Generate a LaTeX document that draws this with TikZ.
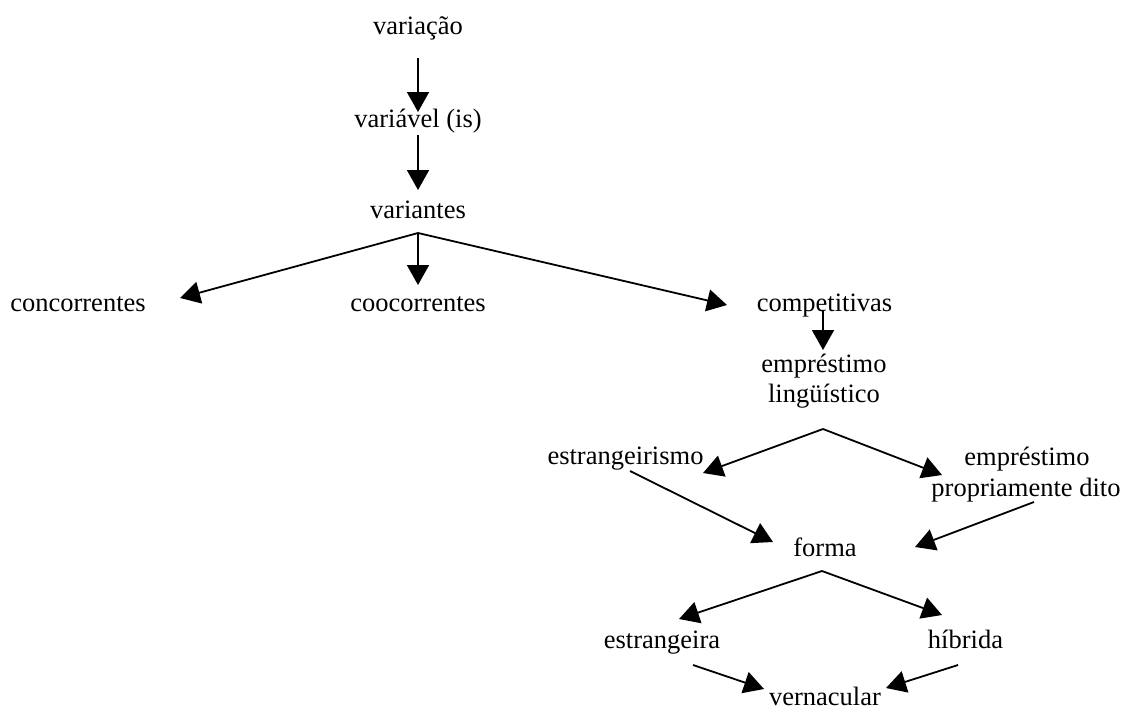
\documentclass[tikz,border=0pt]{standalone}
\usepackage{fontspec}
\setmainfont{Liberation Serif}
\usetikzlibrary{arrows.meta}
\begin{document}
\begin{tikzpicture}[x=1pt,y=-1pt,
  lbl/.style={anchor=base,inner sep=0pt,font=\fontsize{26.5}{30}\selectfont},
  arr/.style={line width=1.8pt,-{Triangle[length=20pt,width=22pt]}}]
\useasboundingbox (0,0) rectangle (1126,710);
% nodes
\node[lbl] (var) at (418,34) {variação};
\node[lbl] (vel) at (418,127) {variável (is)};
\node[lbl] (vts) at (418,218) {variantes};
\node[lbl] (conc) at (78,311) {concorrentes};
\node[lbl] (cooc) at (418,311) {coocorrentes};
\node[lbl] (comp) at (824.5,311) {competitivas};
\node[lbl] (emp) at (824,372) {empréstimo};
\node[lbl] (empb) at (824,402) {lingüístico};
\node[lbl] (estr) at (625.5,464) {estrangeirismo};
\node[lbl] (prop) at (1027,465) {empréstimo};
\node[lbl] (propb) at (1026,496) {propriamente dito};
\node[lbl] (forma) at (825,556) {forma};
\node[lbl] (estra) at (662,648) {estrangeira};
\node[lbl] (hib) at (965.5,648) {híbrida};
\node[lbl] (vern) at (825,705) {vernacular};
% connector points
\coordinate (var-s) at (418,58);
\coordinate (vel-n) at (418,112);
\coordinate (vel-s) at (418,135);
\coordinate (vts-n) at (418,190);
\coordinate (b1) at (418,233);
\coordinate (conc-e) at (180,298);
\coordinate (cooc-n) at (418,285);
\coordinate (comp-w) at (727,305);
\coordinate (comp-s) at (823,310);
\coordinate (emp-n) at (823,350);
\coordinate (b2) at (823,429);
\coordinate (estr-e) at (703,473);
\coordinate (prop-w) at (942,475);
\coordinate (estr-s) at (630,471);
\coordinate (forma-w) at (773,542);
\coordinate (prop-s) at (1034,502);
\coordinate (forma-e) at (915,547);
\coordinate (b3) at (822,571);
\coordinate (estra-n) at (679,619);
\coordinate (hib-n) at (942,615);
\coordinate (estra-s) at (693,665);
\coordinate (vern-w) at (764,689);
\coordinate (hib-s) at (958,665);
\coordinate (vern-e) at (886,688);
% connectors
\draw[arr] (var-s) -- (vel-n);
\draw[arr] (vel-s) -- (vts-n);
\draw[arr] (b1) -- (conc-e);
\draw[arr] (b1) -- (cooc-n);
\draw[arr] (b1) -- (comp-w);
\draw[arr] (comp-s) -- (emp-n);
\draw[arr] (b2) -- (estr-e);
\draw[arr] (b2) -- (prop-w);
\draw[arr] (estr-s) -- (forma-w);
\draw[arr] (prop-s) -- (forma-e);
\draw[arr] (b3) -- (estra-n);
\draw[arr] (b3) -- (hib-n);
\draw[arr] (estra-s) -- (vern-w);
\draw[arr] (hib-s) -- (vern-e);
\end{tikzpicture}
\end{document}
